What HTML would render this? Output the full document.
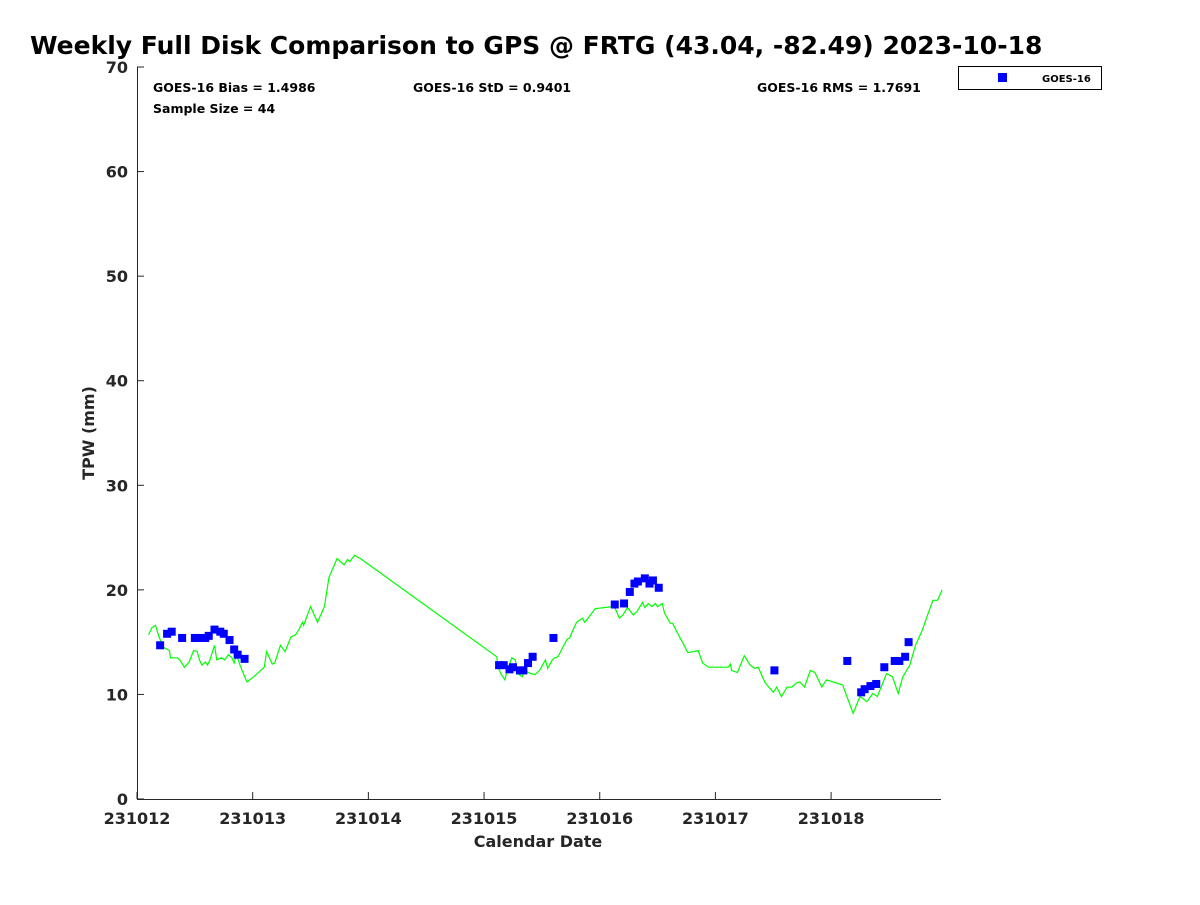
<!DOCTYPE html>
<html><head><meta charset="utf-8"><style>
body{margin:0;background:#fff}
svg text{font-family:"DejaVu Sans","Liberation Sans",sans-serif;font-weight:bold;fill:#262626}
</style></head><body>
<svg width="1200" height="900" xmlns="http://www.w3.org/2000/svg">
<text x="30" y="54" font-size="25" style="fill:#000">Weekly Full Disk Comparison to GPS @ FRTG (43.04, -82.49) 2023-10-18</text>
<g id="plot"></g>
<text x="153" y="92" font-size="12.5" style="fill:#000">GOES-16 Bias = 1.4986</text>
<text x="153" y="113" font-size="12.5" style="fill:#000">Sample Size = 44</text>
<text x="413" y="92" font-size="12.5" style="fill:#000">GOES-16 StD = 0.9401</text>
<text x="757" y="92" font-size="12.5" style="fill:#000">GOES-16 RMS = 1.7691</text>
<g>
<rect x="958.5" y="66.5" width="143" height="23" fill="#fff" stroke="#000" stroke-width="1"/>
<rect x="998" y="73" width="9" height="9" fill="#0000ff"/>
<text x="1042" y="82" font-size="10" style="fill:#000">GOES-16</text>
</g>
<text x="538" y="847" font-size="16" text-anchor="middle">Calendar Date</text>
<text transform="translate(94,433) rotate(-90)" font-size="16" text-anchor="middle">TPW (mm)</text>
</svg>
<script>
const xTicks=[0,1,2,3,4,5,6];
const xTickLabels=["231012","231013","231014","231015","231016","231017","231018"];
const yTicks=[0,10,20,30,40,50,60,70];
const gpsDays=[.10,.13,.16,.19,.23,.28,.29,.35,.37,.41,.45,.49,.52,.54,.56,.59,.61,.63,.67,.69,.73,.76,.79,.82,.84,.86,.89,.92,.95,1.01,1.10,1.12,1.17,1.19,1.24,1.28,1.33,1.37,1.40,1.43,1.44,1.50,1.56,1.62,1.66,1.73,1.79,1.82,1.84,1.88,1.93,3.11,3.12,3.15,3.18,3.20,3.24,3.27,3.29,3.33,3.35,3.40,3.44,3.48,3.53,3.55,3.59,3.61,3.64,3.68,3.72,3.74,3.77,3.80,3.85,3.87,3.90,3.96,4.11,4.13,4.17,4.20,4.24,4.29,4.32,4.37,4.39,4.42,4.45,4.48,4.50,4.54,4.56,4.61,4.63,4.68,4.72,4.76,4.81,4.85,4.89,4.94,5.11,5.13,5.14,5.19,5.25,5.30,5.34,5.37,5.43,5.47,5.50,5.53,5.57,5.62,5.66,5.70,5.73,5.77,5.82,5.86,5.92,5.96,6.10,6.19,6.25,6.31,6.36,6.40,6.44,6.48,6.53,6.58,6.62,6.68,6.73,6.79,6.84,6.88,6.92,6.96];
const gpsTpw=[15.7,16.4,16.6,15.5,14.5,14.2,13.5,13.5,13.3,12.6,13.1,14.2,14.1,13.3,12.8,13.1,12.8,13.3,14.7,13.3,13.5,13.3,13.8,13.5,13.0,13.8,12.8,12.0,11.2,11.7,12.6,14.1,12.9,13.0,14.7,14.1,15.5,15.7,16.2,16.9,16.6,18.4,16.9,18.4,21.2,23.0,22.4,22.9,22.7,23.3,23.0,13.6,12.6,11.9,11.4,12.3,13.5,13.3,12.0,11.7,12.3,12.0,11.9,12.3,13.3,12.5,13.3,13.5,13.6,14.5,15.3,15.4,16.2,16.9,17.3,16.9,17.3,18.2,18.4,18.3,17.3,17.6,18.3,17.6,17.9,18.8,18.3,18.7,18.4,18.7,18.4,18.7,17.8,16.8,16.8,15.7,14.9,14.0,14.1,14.2,13.0,12.6,12.6,12.9,12.3,12.1,13.7,12.8,12.5,12.6,11.1,10.6,10.2,10.7,9.8,10.7,10.7,11.1,11.2,10.7,12.3,12.1,10.7,11.4,10.9,8.2,9.8,9.3,10.1,9.8,10.9,12.0,11.7,10.1,11.7,12.8,14.7,16.2,17.8,19.0,19.0,20.0];
const goesDays=[.20,.26,.30,.39,.50,.54,.59,.62,.67,.72,.75,.80,.84,.87,.93,3.13,3.17,3.22,3.25,3.31,3.34,3.38,3.42,3.60,4.13,4.21,4.26,4.30,4.33,4.39,4.43,4.46,4.51,5.51,6.14,6.26,6.29,6.34,6.39,6.46,6.55,6.59,6.64,6.67];
const goesTpw=[14.7,15.8,16.0,15.4,15.4,15.4,15.4,15.6,16.2,16.0,15.8,15.2,14.3,13.8,13.4,12.8,12.8,12.4,12.6,12.3,12.3,13.0,13.6,15.4,18.6,18.7,19.8,20.6,20.8,21.1,20.6,20.9,20.2,12.3,13.2,10.2,10.5,10.8,11.0,12.6,13.2,13.2,13.6,15.0];
const L=137,R=941,T=67,B=799,XMAX=6.95,YMAX=70;
function xs(d){return L+(R-L)*d/XMAX}
function ys(v){return B-(B-T)*v/YMAX}
const NS="http://www.w3.org/2000/svg";
const g=document.getElementById('plot');
function mk(t,a){const e=document.createElementNS(NS,t);for(const k in a)e.setAttribute(k,a[k]);g.appendChild(e);return e}
const line=mk('polyline',{points:gpsDays.map((d,i)=>xs(d).toFixed(1)+','+ys(gpsTpw[i]).toFixed(1)).join(' '),fill:'none',stroke:'#00ff00','stroke-width':1.2});


goesDays.forEach((d,i)=>{
 const r=mk('rect',{x:xs(d)-4,y:ys(goesTpw[i])-4,width:8,height:8,fill:'#0000ff'});
 
 
});
const ax=mk('path',{d:`M${L+.5},${T}V${B+.5}H${R}`,fill:'none',stroke:'#262626','stroke-width':1});


yTicks.forEach(v=>{
 const y=ys(v);
 const tk=mk('line',{x1:L,x2:L+7,y1:y,y2:y,stroke:'#262626'});
 
 
 const t=mk('text',{x:L-9,y:y+6,'font-size':16,'text-anchor':'end'});
 t.textContent=v;
 
 
});
xTicks.forEach((d,i)=>{
 const x=xs(d);
 const tk=mk('line',{x1:x,x2:x,y1:B,y2:B-7,stroke:'#262626'});
 
 
 const t=mk('text',{x:x,y:B+25,'font-size':16,'text-anchor':'middle'});
 t.textContent=xTickLabels[i];
 
 
});
</script>
</body></html>
